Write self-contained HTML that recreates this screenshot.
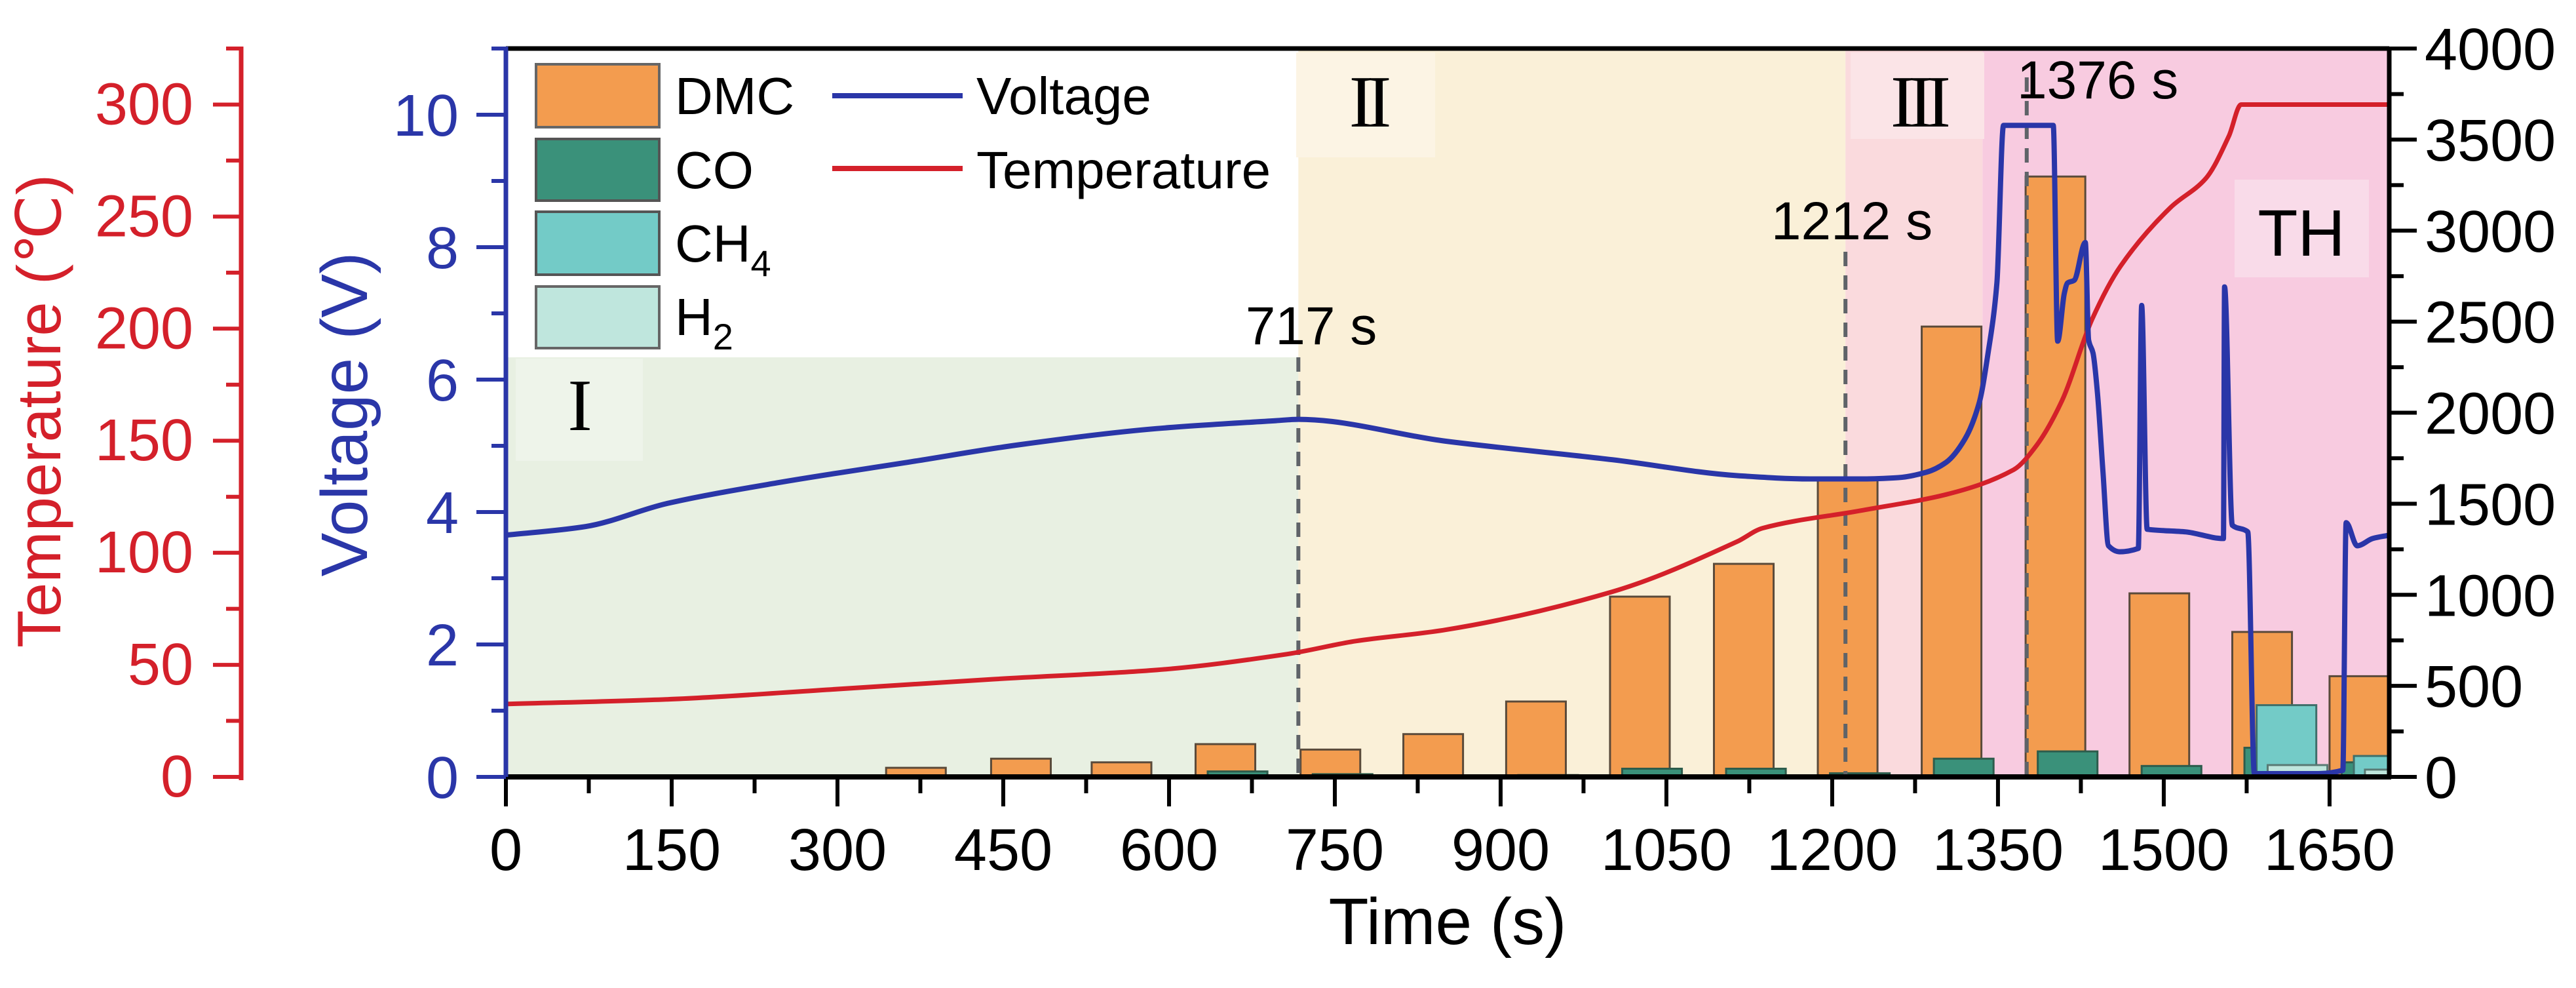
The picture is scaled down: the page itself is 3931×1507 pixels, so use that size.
<!DOCTYPE html>
<html><head><meta charset="utf-8"><style>
html,body{margin:0;padding:0;background:#fff;}
svg{display:block;font-family:"Liberation Sans",sans-serif;}
</style></head><body>
<svg id="chart" width="3931" height="1507" viewBox="0 0 3931 1507" xmlns="http://www.w3.org/2000/svg">
<g id="bg"></g>
<g id="bars"></g>
<g id="lines"></g>
<g id="axes"></g>
<g id="legend">
  <rect x="818" y="98" width="188" height="96" fill="#f39c4f" stroke="#666" stroke-width="4"/>
  <rect x="818" y="212" width="188" height="94" fill="#3a917a" stroke="#555" stroke-width="4"/>
  <rect x="818" y="323" width="188" height="96" fill="#73cbc7" stroke="#555" stroke-width="4"/>
  <rect x="818" y="437" width="188" height="94" fill="#bfe6dd" stroke="#666" stroke-width="4"/>
  <text x="1030" y="174" font-size="80">DMC</text>
  <text x="1030" y="287" font-size="80">CO</text>
  <text x="1030" y="399" font-size="80">CH<tspan font-size="56" dy="22">4</tspan></text>
  <text x="1030" y="511" font-size="80">H<tspan font-size="56" dy="22">2</tspan></text>
  <line x1="1270" y1="146" x2="1469" y2="146" stroke="#2a36a8" stroke-width="8"/>
  <line x1="1270" y1="257" x2="1469" y2="257" stroke="#d4202a" stroke-width="8"/>
  <text x="1490" y="174" font-size="80">Voltage</text>
  <text x="1490" y="287" font-size="80">Temperature</text>
</g>
</svg>
<script>
// ---- data ----
const xTicks = [0,150,300,450,600,750,900,1050,1200,1350,1500,1650];
const vTicks = [0,2,4,6,8,10];
const tTicks = [0,50,100,150,200,250,300];
const gTicks = [0,500,1000,1500,2000,2500,3000,3500,4000];
const barTimes = [371,466,557,651,746,839,932,1026,1120,1214,1308,1402,1496,1589,1677];
const dmcValues = [50,100,80,180,150,235,414,990,1170,1640,2473,3297,1008,796,553];
const coValues  = [0,0,0,30,15,5,10,45,45,20,100,140,60,160,80];
const ch4Values = [0,0,0,0,0,0,0,0,0,0,0,0,0,394,115];
const h2Values  = [0,0,0,0,0,0,0,0,0,0,0,0,0,65,40];
const voltTime = [0,72,146,245,367,466,589,697,717,850,1001,1114,1180,1228,1260,1285,1303,1320,1333,1341,1349,1355,1400,1404,1410,1413,1419,1429,1432,1436,1440,1445,1450,1460,1477,1480,1485,1520,1554,1555,1562,1576,1582,1600,1640,1662,1665,1675,1689,1704];
const voltValues = [3.65,3.78,4.13,4.44,4.76,5.02,5.26,5.38,5.4,5.07,4.79,4.55,4.5,4.5,4.52,4.6,4.75,5.1,5.65,6.4,7.46,9.84,9.84,6.58,7.3,7.46,7.5,8.07,6.6,6.4,5.8,4.6,3.49,3.4,3.45,7.12,3.74,3.7,3.6,7.4,3.8,3.7,0.05,0.05,0.05,0.1,3.84,3.49,3.6,3.65];
const tempTime = [0,146,294,441,589,707,769,850,1001,1114,1137,1228,1303,1364,1385,1408,1435,1461,1506,1538,1559,1570,1704];
const tempValues = [32.5,34.6,39,43.6,47.7,54.8,60.6,65.6,82.6,105,111,119,126,137,148,168,204,228,254,267,286,300,300];
const stageMarks = [717,1212,1376];
// ---- scales ----
const X0=772, X1=3646, Y0=1185, YT=74, XMAX=1704;
const xs = t => X0 + t*(X1-X0)/XMAX;
const vs = v => Y0 - v*(Y0-YT)/11;
const ts = T => Y0 - T*(Y0-YT)/325;
const gs = g => Y0 - g*(Y0-YT)/4000;
const NS="http://www.w3.org/2000/svg";
function mk(tag, parent, attrs){const e=document.createElementNS(NS,tag);for(const k in attrs)e.setAttribute(k,attrs[k]);parent.appendChild(e);return e;}
const bg=document.getElementById('bg'), bars=document.getElementById('bars'), lines=document.getElementById('lines'), axes=document.getElementById('axes');
// backgrounds
let r;
r=mk('rect',bg,{x:X0,y:545,width:xs(717)-X0,height:Y0-545,fill:'#e8f0e2'});


r=mk('rect',bg,{x:xs(717),y:YT,width:xs(1212)-xs(717),height:Y0-YT,fill:'#faf0d8'});


r=mk('rect',bg,{x:xs(1212),y:YT,width:xs(1336)-xs(1212),height:Y0-YT,fill:'#fadadd'});


r=mk('rect',bg,{x:xs(1336),y:YT,width:X1-xs(1336),height:Y0-YT,fill:'#f8cbe0'});


const boxes=[[787,547,194,156,'#eef4ea','I',880,656],[1978,80,212,160,'#fcf4e4','II',2086,193],[2824,80,204,132,'#fbe4e7','III',2926,193],[3410,274,205,149,'#f9dbe9','TH',3512,390]];
boxes.forEach((b,i)=>{
  const bx=mk('rect',bg,{x:b[0],y:b[1],width:b[2],height:b[3],fill:b[4]});
  
  
  const tx=mk('text',bg,{x:b[6],y:b[7],'text-anchor':'middle','font-size':i==3?100:112,'font-family':i==3?'"Liberation Sans",sans-serif':'"Liberation Serif",serif','letter-spacing':i==3?0:-10});
  tx.textContent=b[5];
  
  
});
// bars
function drawBars(vals, off, fill, stroke, name){
  vals.forEach((v,i)=>{
    if(v<=0) return;
    const t=barTimes[i]+off; let x=xs(t-27), w=xs(t+27)-x;
    if(x+w>X1) w=X1-x;
    const b=mk('rect',bars,{x:x,y:gs(v),width:w,height:Y0-gs(v),fill:fill,stroke:stroke,'stroke-width':3});
    
    
  });
}
drawBars(dmcValues,0,'#f39c4f','#5a4a3a','bar-dmc');
drawBars(coValues,11,'#3a917a','#2d5c4c','bar-co');
drawBars(ch4Values,22,'#73cbc7','#3f6f6a','bar-ch4');
drawBars(h2Values,32,'#bfe6dd','#5a7a74','bar-h2');
// dashed markers
const markTop=[545,384,118];
stageMarks.forEach((m,i)=>{
  const l=mk('line',lines,{x1:xs(m),y1:markTop[i],x2:xs(m),y2:Y0,stroke:'#5f6368','stroke-width':6,'stroke-dasharray':'22 14'});
  
  
});
const ann=[[2001,525,'717 s','middle'],[2826,365,'1212 s','middle'],[3078,150,'1376 s','start']];
ann.forEach(a=>{
  const t=mk('text',lines,{x:a[0],y:a[1],'font-size':82,'text-anchor':a[3]});
  t.textContent=a[2];
  
  
});
// monotone cubic path (no overshoot)
function path(tx,vy,sy){
  const X=tx.map(xs), Y=vy.map(sy), n=X.length;
  const d=[],m=new Array(n);
  for(let i=0;i<n-1;i++){const dx=X[i+1]-X[i];d.push(dx>0?(Y[i+1]-Y[i])/dx:0);}
  m[0]=d[0];m[n-1]=d[n-2];
  for(let i=1;i<n-1;i++){m[i]=(d[i-1]*d[i]<=0)?0:(2/(1/d[i-1]+1/d[i]));}
  let s='M'+X[0].toFixed(1)+' '+Y[0].toFixed(1);
  for(let i=0;i<n-1;i++){
    const h=(X[i+1]-X[i])/3;
    s+=' C'+(X[i]+h).toFixed(1)+' '+(Y[i]+m[i]*h).toFixed(1)+' '+(X[i+1]-h).toFixed(1)+' '+(Y[i+1]-m[i+1]*h).toFixed(1)+' '+X[i+1].toFixed(1)+' '+Y[i+1].toFixed(1);
  }
  return s;
}
let p=mk('path',lines,{d:path(tempTime,tempValues,ts),fill:'none',stroke:'#d4202a','stroke-width':7,'stroke-linejoin':'round'});


p=mk('path',lines,{d:path(voltTime,voltValues,vs),fill:'none',stroke:'#2a36a8','stroke-width':8,'stroke-linejoin':'round'});


// axes frame
let a=mk('line',axes,{x1:X0,y1:YT,x2:X1,y2:YT,stroke:'#000','stroke-width':7});


a=mk('line',axes,{x1:X1,y1:YT-3,x2:X1,y2:Y0+3,stroke:'#000','stroke-width':7});


a=mk('line',axes,{x1:X0,y1:Y0,x2:X1+3,y2:Y0,stroke:'#000','stroke-width':8});


a=mk('line',axes,{x1:X0,y1:YT-3,x2:X0,y2:Y0,stroke:'#2a36a8','stroke-width':7});


a=mk('line',axes,{x1:368,y1:YT-3,x2:368,y2:1190,stroke:'#d4202a','stroke-width':7});


// x ticks
xTicks.forEach(v=>{
  let t=mk('line',axes,{x1:xs(v),y1:Y0,x2:xs(v),y2:1230,stroke:'#000','stroke-width':6});
  
  
  if(v+75<XMAX){t=mk('line',axes,{x1:xs(v+75),y1:Y0,x2:xs(v+75),y2:1210,stroke:'#000','stroke-width':6});
  
  }
  const l=mk('text',axes,{x:xs(v),y:1327,'font-size':90,'text-anchor':'middle'});
  l.textContent=v;
  
  
});
// voltage ticks
vTicks.forEach(v=>{
  let t=mk('line',axes,{x1:727,y1:vs(v),x2:X0,y2:vs(v),stroke:'#2a36a8','stroke-width':6});
  
  
  t=mk('line',axes,{x1:750,y1:vs(v+1),x2:X0,y2:vs(v+1),stroke:'#2a36a8','stroke-width':6});
  
  
  const l=mk('text',axes,{x:700,y:vs(v)+32,'font-size':90,'text-anchor':'end',fill:'#2a36a8'});
  l.textContent=v;
  
  
});
// temperature ticks
tTicks.forEach(v=>{
  let t=mk('line',axes,{x1:325,y1:ts(v),x2:368,y2:ts(v),stroke:'#d4202a','stroke-width':6});
  
  
  t=mk('line',axes,{x1:345,y1:ts(v+25),x2:368,y2:ts(v+25),stroke:'#d4202a','stroke-width':6});
  
  
  const l=mk('text',axes,{x:295,y:ts(v)+30,'font-size':90,'text-anchor':'end',fill:'#d4202a'});
  l.textContent=v;
  
  
});
// right ticks
gTicks.forEach(v=>{
  let t=mk('line',axes,{x1:X1,y1:gs(v),x2:3688,y2:gs(v),stroke:'#000','stroke-width':6});
  
  
  if(v<4000){t=mk('line',axes,{x1:X1,y1:gs(v+250),x2:3668,y2:gs(v+250),stroke:'#000','stroke-width':6});
  
  }
  const l=mk('text',axes,{x:3700,y:gs(v)+32,'font-size':90});
  l.textContent=v;
  
  
});
// titles
let tt=mk('text',axes,{x:2209,y:1440,'font-size':100,'text-anchor':'middle'});
tt.textContent='Time (s)';


tt=mk('text',axes,{x:0,y:0,'font-size':100,'text-anchor':'middle',fill:'#2a36a8',transform:'translate(560,632) rotate(-90)'});
tt.textContent='Voltage (V)';


tt=mk('text',axes,{x:0,y:0,'font-size':94,'text-anchor':'middle',fill:'#d4202a',transform:'translate(92,627) rotate(-90)'});
tt.textContent='Temperature (℃)';


</script>
</body></html>
